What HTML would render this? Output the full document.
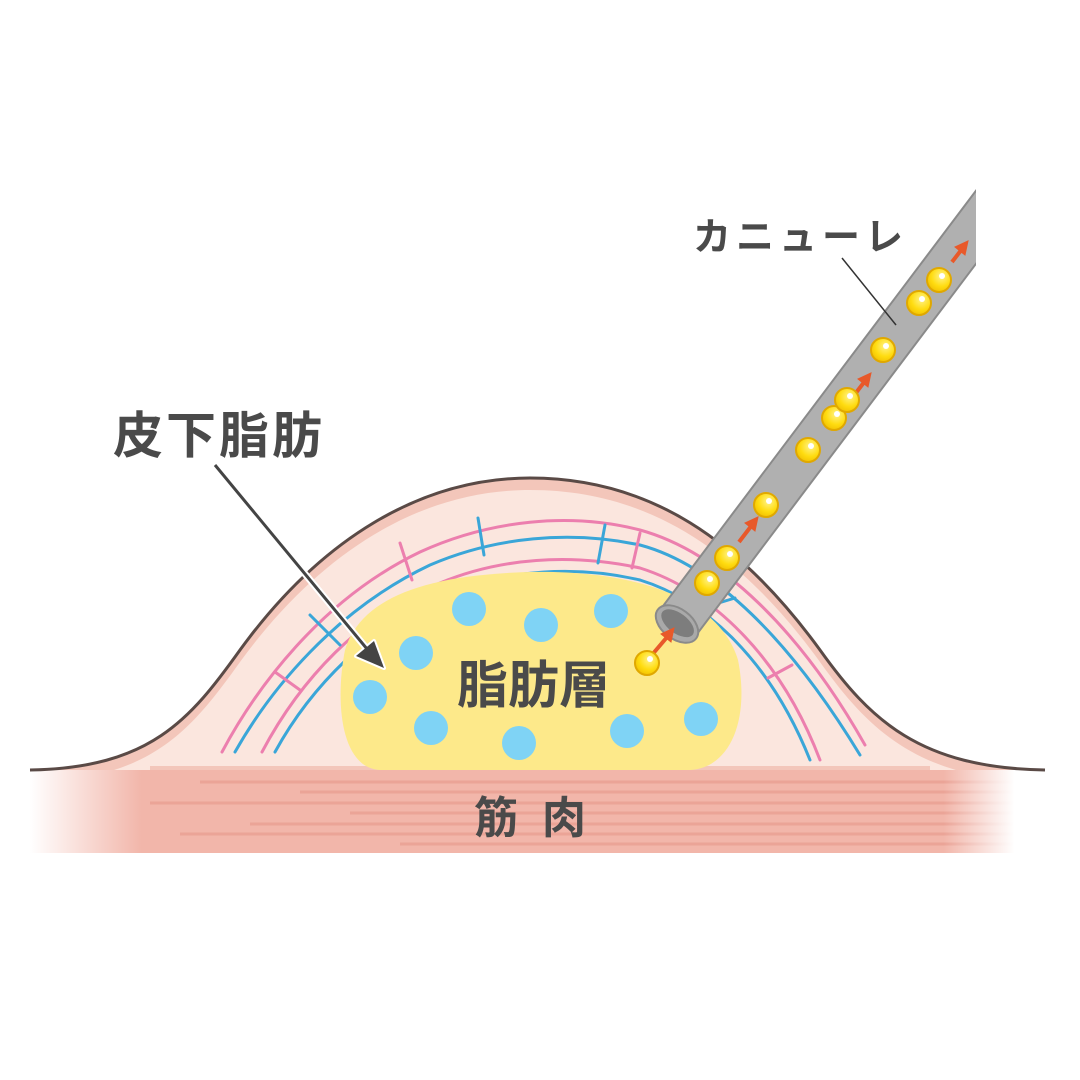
<!DOCTYPE html>
<html><head><meta charset="utf-8"><style>
html,body{margin:0;padding:0;background:#fff}
svg{display:block}
text{font-family:"Liberation Sans","Noto Sans CJK JP",sans-serif;font-weight:bold;fill:#4a4a4a}
</style></head><body>
<svg width="1080" height="1080" viewBox="0 0 1080 1080" xmlns="http://www.w3.org/2000/svg">
<defs>
<linearGradient id="mfade" x1="0" x2="1" y1="0" y2="0">
<stop offset="0" stop-color="#fff" stop-opacity="1"/>
<stop offset="0.11" stop-color="#fff" stop-opacity="0"/>
<stop offset="0.9" stop-color="#fff" stop-opacity="0"/>
<stop offset="0.97" stop-color="#fff" stop-opacity="1"/>
</linearGradient>
<clipPath id="skin"><path d="M30,770 C150,768 190,720 240,650 C320,540 420,478 530,478 C650,478 740,540 820,650 C870,720 920,768 1045,770 Z"/></clipPath>
<clipPath id="cc"><rect x="0" y="0" width="976" height="1080"/></clipPath>
<radialGradient id="ball" cx="0.6" cy="0.35" r="0.7">
<stop offset="0" stop-color="#fff38a"/><stop offset="0.6" stop-color="#ffdc10"/><stop offset="1" stop-color="#f1c000"/>
</radialGradient>
</defs>
<rect x="30" y="770" width="1015" height="83" fill="#f2b6aa"/>
<g stroke="#e99d90" stroke-width="3" opacity="0.7">
<line x1="200" y1="782" x2="1045" y2="782"/><line x1="300" y1="792" x2="1045" y2="792"/>
<line x1="150" y1="803" x2="1045" y2="803"/><line x1="350" y1="813" x2="1045" y2="813"/>
<line x1="250" y1="824" x2="1045" y2="824"/><line x1="180" y1="834" x2="1045" y2="834"/>
<line x1="400" y1="844" x2="1045" y2="844"/>
</g>
<rect x="30" y="770" width="1015" height="83" fill="url(#mfade)"/>
<g clip-path="url(#skin)">
<rect x="0" y="400" width="1080" height="400" fill="#f3c6ba"/>
<path transform="translate(0,12)" d="M30,770 C150,768 190,720 240,650 C320,540 420,478 530,478 C650,478 740,540 820,650 C870,720 920,768 1045,770 Z" fill="#fbe6de"/>
<rect x="150" y="766" width="780" height="6" fill="#f3c6ba"/>
</g>
<g fill="none" stroke-width="3" stroke-linecap="round">
<path d="M222,752 C255,690 320,600 420,552 C490,520 570,512 640,530 C720,552 800,630 865,745" stroke="#ec7fae"/>
<path d="M235,752 C270,690 335,610 430,565 C495,537 570,530 640,545 C715,565 790,640 860,755" stroke="#3aa6d8"/>
<path d="M262,752 C300,680 360,615 440,583 C500,558 570,553 640,568 C710,590 780,655 820,760" stroke="#ec7fae"/>
<path d="M275,752 C310,688 370,625 450,592 C510,570 575,565 640,580 C705,600 770,660 810,760" stroke="#3aa6d8"/>
<line x1="478" y1="518" x2="484" y2="555" stroke="#3aa6d8"/>
<line x1="605" y1="525" x2="598" y2="563" stroke="#3aa6d8"/>
<line x1="640" y1="533" x2="632" y2="568" stroke="#ec7fae"/>
<line x1="400" y1="543" x2="412" y2="580" stroke="#ec7fae"/>
<line x1="310" y1="615" x2="340" y2="645" stroke="#3aa6d8"/>
<line x1="275" y1="672" x2="300" y2="690" stroke="#ec7fae"/>
<line x1="712" y1="605" x2="735" y2="598" stroke="#3aa6d8"/>
<line x1="768" y1="678" x2="792" y2="665" stroke="#ec7fae"/>
</g>
<path d="M345,650 C360,600 420,575 530,572 C640,570 720,600 738,660 C750,720 730,768 690,770 L380,770 C340,768 335,700 345,650 Z" fill="#fde98a"/>
<g fill="#7fd3f5">
<circle cx="469" cy="609" r="17"/><circle cx="541" cy="625" r="17"/><circle cx="611" cy="611" r="17"/>
<circle cx="416" cy="653" r="17"/><circle cx="370" cy="697" r="17"/><circle cx="431" cy="728" r="17"/>
<circle cx="519" cy="743" r="17"/><circle cx="627" cy="731" r="17"/><circle cx="701" cy="719" r="17"/>
</g>
<path d="M30,770 C150,768 190,720 240,650 C320,540 420,478 530,478 C650,478 740,540 820,650 C870,720 920,768 1045,770" fill="none" stroke="#5a4a46" stroke-width="3"/>
<g clip-path="url(#cc)">
<g transform="translate(677,624) rotate(-53)">
<rect x="0" y="-22" width="560" height="44" fill="#b0b0b0" stroke="#8a8a8a" stroke-width="2"/>
<ellipse cx="0" cy="0" rx="15" ry="24" fill="#a9a9a9" stroke="#8a8a8a" stroke-width="2"/>
<ellipse cx="1" cy="0" rx="10" ry="19" fill="#7d7d7d"/>
</g>
</g>
<line x1="842" y1="258" x2="896" y2="325" stroke="#333" stroke-width="1.5"/>
<g stroke="#e8592a" stroke-width="4" fill="#e8592a">
<line x1="651" y1="656" x2="668" y2="636"/><polygon points="674,628 661,634 671,642" stroke-width="1"/>
<line x1="739" y1="542" x2="752" y2="525"/><polygon points="758,517 745,523 755,531" stroke-width="1"/>
<line x1="852" y1="398" x2="865" y2="381"/><polygon points="871,373 858,379 868,387" stroke-width="1"/>
<line x1="952" y1="262" x2="962" y2="249"/><polygon points="968,241 955,247 965,255" stroke-width="1"/>
</g>
<g stroke="#e0a800" stroke-width="2" fill="url(#ball)">
<circle cx="647" cy="663" r="12"/><circle cx="707" cy="583" r="12"/><circle cx="727" cy="558" r="12"/>
<circle cx="766" cy="505" r="12"/><circle cx="808" cy="450" r="12"/><circle cx="834" cy="418" r="12"/>
<circle cx="847" cy="400" r="12"/><circle cx="883" cy="350" r="12"/><circle cx="919" cy="303" r="12"/>
<circle cx="939" cy="280" r="12"/>
</g>
<g fill="#fff">
<circle cx="650" cy="659" r="3"/><circle cx="710" cy="579" r="3"/><circle cx="730" cy="554" r="3"/>
<circle cx="769" cy="501" r="3"/><circle cx="811" cy="446" r="3"/><circle cx="837" cy="414" r="3"/>
<circle cx="850" cy="396" r="3"/><circle cx="886" cy="346" r="3"/><circle cx="922" cy="299" r="3"/>
<circle cx="942" cy="276" r="3"/>
</g>
<line x1="215" y1="465" x2="372" y2="655" stroke="#fff" stroke-width="7"/>
<polygon points="384,668 356,656 374,641" fill="#444" stroke="#fff" stroke-width="4" stroke-linejoin="round"/>
<line x1="215" y1="465" x2="372" y2="655" stroke="#444" stroke-width="3"/>
<polygon points="384,668 356,656 374,641" fill="#444"/>
<text x="113" y="453" font-size="50" letter-spacing="3">皮下脂肪</text>
<text x="457" y="703" font-size="51">脂肪層</text>
<text x="474" y="833" font-size="44" letter-spacing="24">筋肉</text>
<text x="693" y="250" font-size="38" letter-spacing="5">カニューレ</text>
</svg>
</body></html>
